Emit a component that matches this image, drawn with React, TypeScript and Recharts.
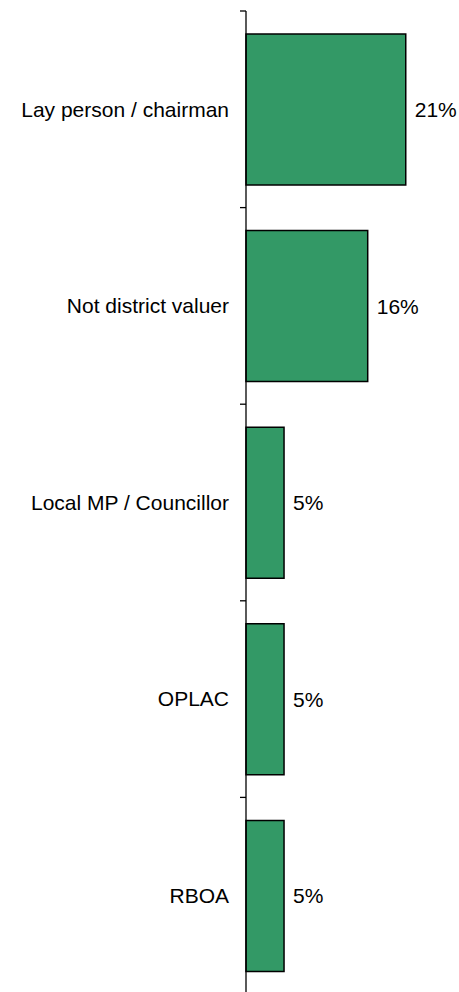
import { BarChart, Bar, XAxis, YAxis, LabelList } from "recharts";

const categories = ["Lay person / chairman", "Not district valuer", "Local MP / Councillor", "OPLAC", "RBOA"];
const shares = [21, 16, 5, 5, 5];

const data = categories.map((name, i) => ({ name, value: shares[i] }));

const W = 459;
const H = 994;
const TOP = 11;
const AXIS_W = 246;
const BAND = (H - TOP) / categories.length;
const FONT = "'Liberation Sans', Arial, sans-serif";

// category label at band centre, tick mark at the band boundary
function CatTick(props: any) {
  const { x, y, payload, index } = props;
  return (
    <g>
      <line x1={x - 6} x2={x} y1={y - BAND / 2} y2={y - BAND / 2} stroke="#000" strokeWidth={1.3} />
      {index === categories.length - 1 && (
        <line x1={x - 6} x2={x} y1={y + BAND / 2} y2={y + BAND / 2} stroke="#000" strokeWidth={1.3} />
      )}
      <text x={x - 17} y={y} dy="0.35em" textAnchor="end" fontSize={21} fontFamily={FONT} fill="#000">
        {payload.value}
      </text>
    </g>
  );
}

export default function App() {
  return (
    <div style={{ position: "absolute", top: 0, left: 0, width: W, height: 992, overflow: "hidden", background: "#fff" }}>
      <BarChart width={W} height={H} data={data} layout="vertical" margin={{ top: TOP, right: 0, bottom: 0, left: 0 }}>
        <XAxis type="number" domain={[0, 28]} hide />
        <YAxis
          type="category"
          dataKey="name"
          width={AXIS_W}
          tickSize={0}
          tickMargin={0}
          tickLine={false}
          axisLine={{ stroke: "#000", strokeWidth: 1.3 }}
          tick={<CatTick />}
          interval={0}
        />
        <Bar dataKey="value" fill="#339966" stroke="#000" strokeWidth={1.5} barSize={151} isAnimationActive={false}>
          <LabelList
            dataKey="value"
            position="right"
            offset={9}
            formatter={(v: any) => `${v}%`}
            fontSize={21}
            fontFamily={FONT}
            fill="#000"
          />
        </Bar>
      </BarChart>
    </div>
  );
}
